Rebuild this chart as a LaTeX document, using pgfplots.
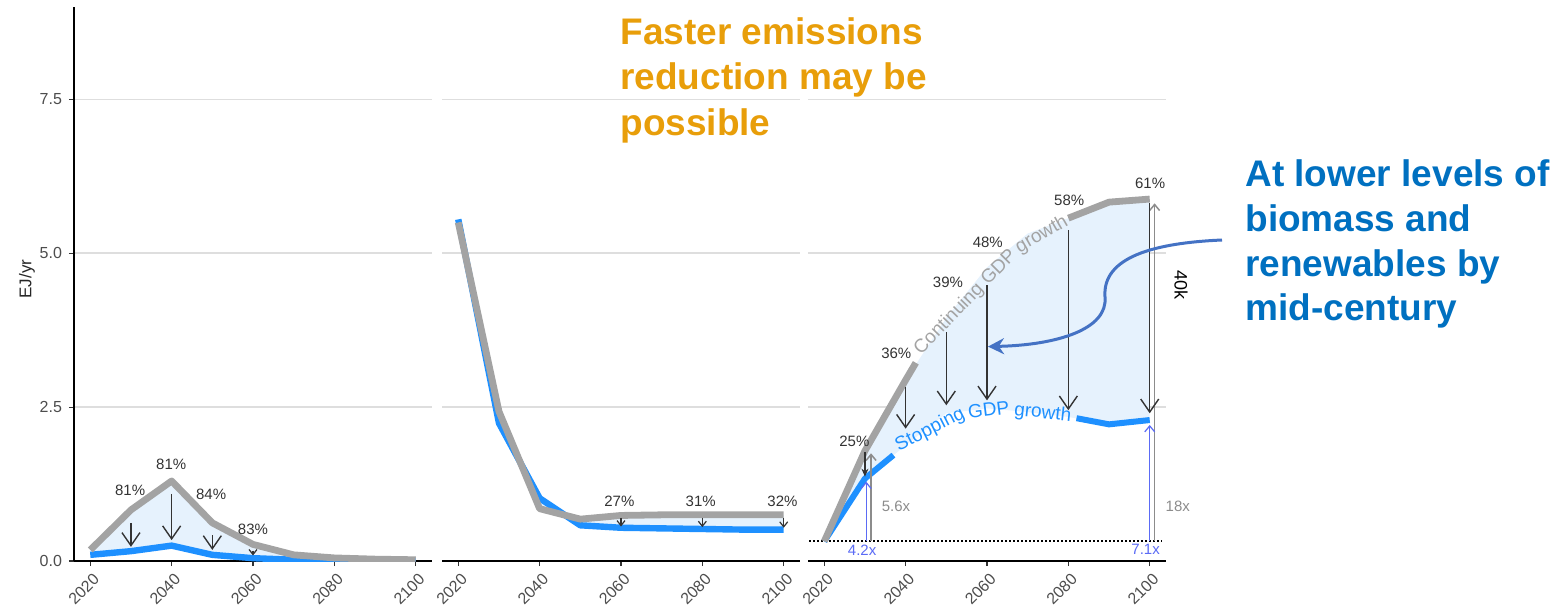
\documentclass[border=0pt]{standalone}
\usepackage{pgfplots}
\pgfplotsset{compat=1.18}
\usepackage{pgfplotstable}
\usepgfplotslibrary{fillbetween}
\usetikzlibrary{arrows.meta}
\usepackage{fontspec}
\setmainfont{Liberation Sans}

\definecolor{contgray}{HTML}{A3A3A3}
\definecolor{stopblue}{HTML}{1E90FF}
\definecolor{gapfill}{HTML}{E6F2FD}
\definecolor{gridgray}{HTML}{DEDEDE}
\definecolor{ticktext}{HTML}{4D4D4D}
\definecolor{note}{HTML}{333333}
\definecolor{ratioblue}{HTML}{5B6BF5}
\definecolor{ratiogray}{HTML}{8C8C8C}
\definecolor{callorange}{HTML}{E89E0A}
\definecolor{callblue}{HTML}{0070C0}
\definecolor{callarrow}{HTML}{4472C4}

\newcommand{\tickfont}{\fontsize{8}{9}\selectfont}
\newcommand{\pctfont}{\fontsize{7.5}{8.5}\selectfont}
\newcommand{\pathfont}{\fontsize{9.5}{10}\selectfont}
\newcommand{\callfont}{\bfseries\fontsize{18.5}{22}\selectfont}

% ---- data: EJ/yr, continuing vs stopping GDP growth ----
\pgfplotstableread{
year cont stop
2020 0.18 0.10
2030 0.83 0.16
2040 1.30 0.25
2050 0.62 0.10
2060 0.27 0.046
2070 0.10 0.02
2080 0.05 0.01
2090 0.03 0.005
2100 0.02 0.003
}\leftpanel

\pgfplotstableread{
year cont stop
2020 5.50 5.55
2030 2.43 2.24
2040 0.85 1.02
2050 0.68 0.58
2060 0.74 0.54
2070 0.75 0.53
2080 0.75 0.52
2090 0.75 0.51
2100 0.75 0.51
}\midpanel

\pgfplotstableread{
year cont stop
2020 0.32 0.32
2030 1.79 1.34
2040 2.94 1.88
2050 3.95 2.40
2060 4.77 2.48
2070 5.32 2.42
2080 5.57 2.34
2090 5.83 2.22
2100 5.88 2.29
}\rightpanel

% visible line pieces around the in-line labels
\pgfplotstableread{
year val
2020 0.32
2030 1.79
2040 2.94
2042.5 3.22
}\rightcontA
\pgfplotstableread{
year val
2080 5.57
2090 5.83
2100 5.88
}\rightcontB
\pgfplotstableread{
year val
2020 0.32
2030 1.34
2037 1.72
}\rightstopA
\pgfplotstableread{
year val
2082 2.32
2090 2.22
2100 2.29
}\rightstopB

% reduction arrows: start, change
\pgfplotstableread{
year y0 dy
2030 0.62 -0.39
2040 1.09 -0.75
2050 0.42 -0.24
}\leftarrows
\pgfplotstableread{
year y0 dy
2060 0.17 -0.08
}\leftsmall
\pgfplotstableread{
year y0 dy
2060 0.70 -0.14
2080 0.70 -0.15
2100 0.70 -0.16
}\midarrows
\pgfplotstableread{
year y0 dy
2040 2.83 -0.68
2050 3.72 -1.19
2060 4.48 -1.87
2080 5.37 -2.92
2100 5.81 -3.41
}\rightarrows
\pgfplotstableread{
year y0 dy
2030 1.77 -0.40
}\rightsmall
\pgfplotstableread{
year y0 dy
2031.5 0.32 1.43
2101.2 0.32 5.49
}\rightgrayup
\pgfplotstableread{
year y0 dy
2030.3 0.32 0.97
2100 0.32 1.89
}\rightblueup

\pgfplotsset{
  panel/.style={
    scale only axis, width=179pt, height=277pt,
    xmin=2016, xmax=2104, ymin=0, ymax=9,
    xtick={2020,2040,2060,2080,2100},
    xticklabels={2020,2040,2060,2080,2100},
    ytick={0,2.5,5,7.5},
    ymajorgrids, grid style={gridgray, line width=0.75pt},
    axis x line*=bottom,
    axis line style={black, line width=1.1pt},
    tick align=outside, major tick length=2.5pt,
    tick style={black!80, line width=0.6pt},
    xticklabel style={xshift=1pt, yshift=-3pt, rotate=45, anchor=north east,
      font=\tickfont, text=ticktext, inner sep=0pt},
    yticklabel style={font=\tickfont, text=ticktext},
    anchor=south west,
  },
  noyaxis/.style={
    axis y line*=left, y axis line style={draw=none},
    ytick style={draw=none}, yticklabels={},
  },
  big arrow/.style={note, line width=0.7pt, mark=none,
    -{Straight Barb[length=6.5pt,width=9pt]}},
  tiny arrow/.style={note, line width=0.6pt, mark=none,
    -{Straight Barb[length=2.5pt,width=4pt]}},
}

\begin{document}
\begin{tikzpicture}

% ---------- left panel ----------
\begin{axis}[panel, at={(0pt,0pt)}, axis y line*=left,
  yticklabels={0.0,2.5,5.0,7.5},
  ylabel={EJ/yr},
  ylabel style={at={(axis description cs:-0.131,0.509)}, anchor=center,
    font=\fontsize{8.5}{10}\selectfont, text=black!85}]
\addplot[draw=none, name path=lc] table[x=year,y=cont]{\leftpanel};
\addplot[draw=none, name path=ls] table[x=year,y=stop]{\leftpanel};
\addplot[gapfill] fill between[of=lc and ls];
\addplot[stopblue, line width=3.2pt, line join=round] table[x=year,y=stop]{\leftpanel};
\addplot[contgray, line width=3.4pt, line join=round] table[x=year,y=cont]{\leftpanel};
\addplot[big arrow, quiver={u=0,v=\thisrow{dy}}] table[x=year,y=y0]{\leftarrows};
\addplot[tiny arrow, quiver={u=0,v=\thisrow{dy}}] table[x=year,y=y0]{\leftsmall};
\node[font=\pctfont, text=note] at (axis cs:2029.8,1.14) {81\%};
\node[font=\pctfont, text=note] at (axis cs:2039.9,1.57) {81\%};
\node[font=\pctfont, text=note] at (axis cs:2049.7,1.09) {84\%};
\node[font=\pctfont, text=note] at (axis cs:2060.0,0.52) {83\%};
\end{axis}

% ---------- middle panel ----------
\begin{axis}[panel, noyaxis, at={(184pt,0pt)}]
\addplot[draw=none, name path=mc] table[x=year,y=cont]{\midpanel};
\addplot[draw=none, name path=ms] table[x=year,y=stop]{\midpanel};
\addplot[gapfill] fill between[of=mc and ms];
\addplot[stopblue, line width=3.2pt, line join=round] table[x=year,y=stop]{\midpanel};
\addplot[contgray, line width=3.4pt, line join=round] table[x=year,y=cont]{\midpanel};
\addplot[tiny arrow, quiver={u=0,v=\thisrow{dy}}] table[x=year,y=y0]{\midarrows};
\node[font=\pctfont, text=note] at (axis cs:2059.6,0.97) {27\%};
\node[font=\pctfont, text=note] at (axis cs:2079.6,0.97) {31\%};
\node[font=\pctfont, text=note] at (axis cs:2099.7,0.97) {32\%};
\end{axis}

% ---------- right panel ----------
\begin{axis}[panel, noyaxis, at={(367pt,0pt)}, clip=false]
\addplot[draw=none, name path=rc] table[x=year,y=cont]{\rightpanel};
\addplot[draw=none, name path=rs] table[x=year,y=stop]{\rightpanel};
\addplot[gapfill] fill between[of=rc and rs];
\addplot[black, line width=1pt, dash pattern=on 1pt off 1pt] coordinates {(2016.3,0.32) (2103,0.32)};
\addplot[stopblue, line width=3pt, line join=round] table[x=year,y=val]{\rightstopA};
\addplot[stopblue, line width=3pt, line join=round] table[x=year,y=val]{\rightstopB};
\addplot[contgray, line width=3.4pt, line join=round] table[x=year,y=val]{\rightcontA};
\addplot[contgray, line width=3.4pt, line join=round] table[x=year,y=val]{\rightcontB};
% in-line series labels, word by word along the curves
\node[font=\pathfont, text=contgray, rotate=46, inner sep=0pt] at (axis cs:2050.7,3.93) {Continuing};
\node[font=\pathfont, text=contgray, rotate=45, inner sep=0pt] at (axis cs:2062.7,4.78) {GDP};
\node[font=\pathfont, text=contgray, rotate=30, inner sep=0pt] at (axis cs:2073.5,5.30) {growth};
\node[font=\pathfont, text=stopblue, rotate=27, inner sep=0pt] at (axis cs:2046.0,2.13) {Stopping};
\node[font=\pathfont, text=stopblue, rotate=7, inner sep=0pt] at (axis cs:2060.4,2.46) {GDP};
\node[font=\pathfont, text=stopblue, rotate=-6, inner sep=0pt] at (axis cs:2073.7,2.40) {growth};
% growth ratio arrows
\addplot[ratiogray, line width=0.75pt, mark=none, -{Straight Barb[length=3pt,width=5pt]},
  quiver={u=0,v=\thisrow{dy}}] table[x=year,y=y0]{\rightgrayup};
\addplot[ratioblue, line width=0.6pt, mark=none, -{Straight Barb[length=3pt,width=5pt]},
  quiver={u=0,v=\thisrow{dy}}] table[x=year,y=y0]{\rightblueup};
% reduction arrows
\addplot[big arrow, quiver={u=0,v=\thisrow{dy}}] table[x=year,y=y0]{\rightarrows};
\addplot[note, line width=0.9pt, mark=none, -{Stealth[length=4pt,width=3.5pt]},
  quiver={u=0,v=\thisrow{dy}}] table[x=year,y=y0]{\rightsmall};
\node[font=\pctfont, text=note] at (axis cs:2027.4,1.94) {25\%};
\node[font=\pctfont, text=note] at (axis cs:2037.7,3.38) {36\%};
\node[font=\pctfont, text=note] at (axis cs:2050.4,4.53) {39\%};
\node[font=\pctfont, text=note] at (axis cs:2060.2,5.17) {48\%};
\node[font=\pctfont, text=note] at (axis cs:2080.2,5.86) {58\%};
\node[font=\pctfont, text=note] at (axis cs:2100.1,6.14) {61\%};
\node[font=\pctfont, text=ratiogray, anchor=west] at (axis cs:2032.4,0.89) {5.6x};
\node[font=\pctfont, text=ratiogray, anchor=west] at (axis cs:2102.2,0.88) {18x};
\node[font=\pctfont, text=ratioblue] at (axis cs:2029.3,0.18) {4.2x};
\node[font=\pctfont, text=ratioblue] at (axis cs:2099.0,0.19) {7.1x};
\node[font=\fontsize{9}{10}\selectfont, text=black, rotate=-90] at (axis cs:2107.7,4.48) {40k};
\end{axis}

% ---------- call-outs ----------
\node[anchor=base west, inner sep=0pt, text=callorange, font=\callfont] at (273pt,258pt) {Faster emissions};
\node[anchor=base west, inner sep=0pt, text=callorange, font=\callfont] at (273pt,235.5pt) {reduction may be};
\node[anchor=base west, inner sep=0pt, text=callorange, font=\callfont] at (273pt,212.5pt) {possible};

\node[anchor=base west, inner sep=0pt, text=callblue, font=\callfont] at (585.5pt,187.2pt) {At lower levels of};
\node[anchor=base west, inner sep=0pt, text=callblue, font=\callfont] at (585.5pt,164.7pt) {biomass and};
\node[anchor=base west, inner sep=0pt, text=callblue, font=\callfont] at (585.5pt,142.2pt) {renewables by};
\node[anchor=base west, inner sep=0pt, text=callblue, font=\callfont] at (585.5pt,120.5pt) {mid-century};

\draw[callarrow, line width=1.5pt, -{Stealth[length=8pt,width=8pt]}]
  (574pt,160.5pt) .. controls (540pt,159pt) and (514pt,152pt) .. (515.5pt,132pt)
  .. controls (517pt,116pt) and (492pt,108pt) .. (457pt,107.2pt);

\pgfresetboundingbox
\useasboundingbox (-37pt,-22.5pt) rectangle (739.5pt,280.5pt);
\end{tikzpicture}
\end{document}
